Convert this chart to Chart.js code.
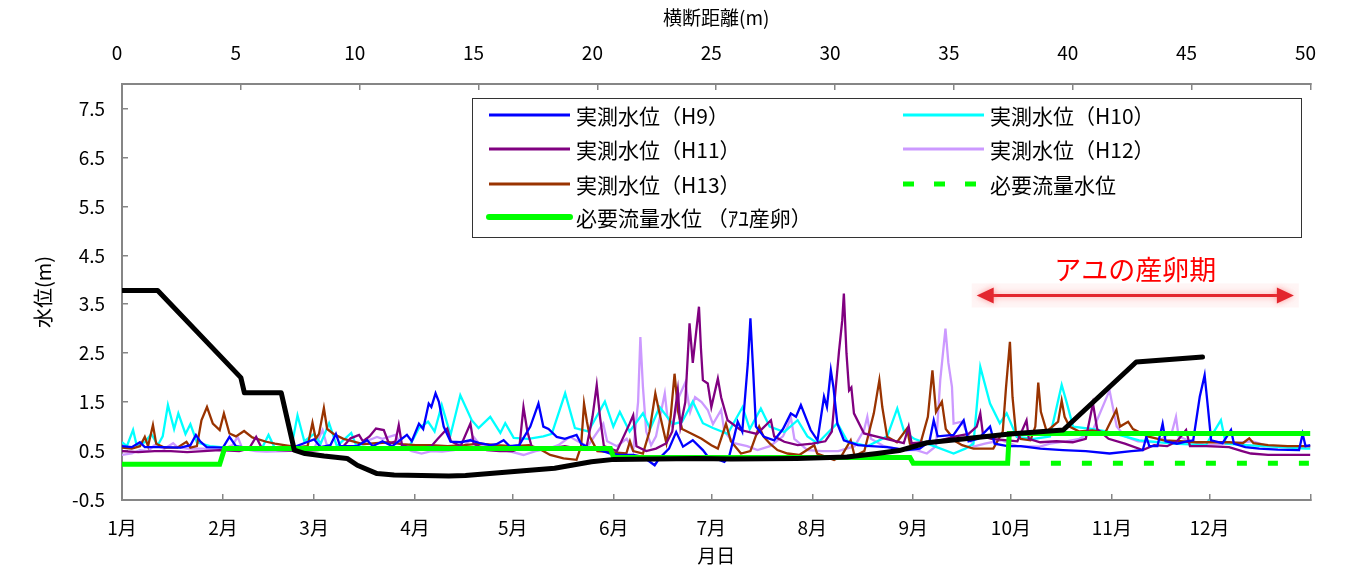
<!DOCTYPE html>
<html><head><meta charset="utf-8">
<script src="https://cdn.jsdelivr.net/npm/chart.js@4.4.1/dist/chart.umd.min.js"></script>
<style>html,body{margin:0;padding:0;background:#fff;}#wrap{width:1347px;height:568px;position:relative;}</style>
</head><body><div id="wrap"><canvas id="c" width="1347" height="568"></canvas></div>
<script>
// ---- axes ----
const monthStartDays = [0,31,59,90,120,151,181,212,243,273,304,334,365];
const monthLabels = ['1月','2月','3月','4月','5月','6月','7月','8月','9月','10月','11月','12月',''];
const distTickValues = [0,5,10,15,20,25,30,35,40,45,50];
const yTickValues = [-0.5,0.5,1.5,2.5,3.5,4.5,5.5,6.5,7.5];

// ---- measured water levels [day of year, m] ----
const h9 = [[0,0.6],[3,0.58],[5.5,0.68],[7,0.58],[12,0.58],[18,0.57],[21,0.62],[22.7,0.83],[24,0.7],[26,0.58],[31,0.57],[33,0.79],[35,0.6],[40,0.55],[47,0.55],[52,0.56],[57.5,0.7],[59,0.74],[61,0.58],[64,0.62],[65.7,0.85],[67,0.6],[72,0.6],[75.3,0.72],[77,0.6],[80,0.7],[83,0.6],[87.5,0.83],[89,0.7],[91.2,1.06],[92.5,0.95],[94.2,1.47],[95,1.4],[96.3,1.68],[97.3,1.51],[98.8,1.0],[100.9,0.69],[104,0.68],[107,0.72],[110,0.66],[113,0.62],[115,0.64],[117.2,0.72],[119,0.6],[122,0.62],[125.4,1.0],[127.9,1.47],[129.4,1.0],[131,0.95],[133.5,0.79],[136,0.75],[139.6,0.83],[141,0.65],[144,0.55],[146.8,0.52],[150,0.45],[152.9,0.42],[157,0.42],[160,0.38],[163.6,0.21],[165,0.35],[168,0.55],[170.2,0.89],[172.3,0.59],[175.3,0.72],[178.4,0.52],[180,0.38],[183,0.33],[185,0.28],[186.5,0.4],[188,0.79],[189.1,1.1],[190.5,0.9],[192.2,2.29],[193,3.21],[193.8,2.2],[194.7,1.0],[197.2,0.79],[200.3,0.72],[203,0.95],[205.4,1.27],[207,1.2],[208.5,1.44],[211.5,0.93],[213.6,0.72],[215.6,1.61],[216.5,1.4],[217.7,2.15],[218.5,1.8],[219.7,1.06],[221.7,0.72],[226,0.62],[230,0.6],[235,0.58],[241.1,0.52],[245,0.55],[248,0.7],[249.3,1.13],[250.5,0.8],[255.4,0.83],[258.5,1.13],[260,0.7],[263,0.75],[266.6,1.0],[268,0.65],[272,0.6],[276,0.6],[282,0.55],[289,0.52],[296,0.5],[303.3,0.45],[310,0.5],[313.5,0.52],[314.6,0.79],[315.5,0.6],[318,0.6],[319.6,1.06],[320.5,0.7],[324,0.65],[327,0.7],[329,0.72],[331,1.61],[332.5,2.05],[333.5,1.4],[334.5,0.72],[338,0.66],[340.6,0.93],[341.5,0.65],[345,0.58],[349.3,0.55],[355,0.53],[361.5,0.52],[362.6,0.85],[363.5,0.6],[365,0.62]];
const h10 = [[0,0.68],[1.5,0.6],[3.4,0.93],[4.5,0.62],[7,0.68],[9,0.85],[11,0.62],[12.5,0.8],[14.1,1.44],[16,0.95],[17.3,1.27],[19.5,0.85],[21,1.05],[23,0.68],[27,0.6],[32,0.57],[38,0.55],[43,0.56],[45,0.83],[47,0.55],[52,0.57],[53.9,1.23],[56,0.7],[59,0.85],[61,0.65],[63.6,1.07],[66,0.6],[70.4,0.87],[72,0.6],[78,0.56],[85,0.58],[88,0.56],[91.2,0.97],[94,1.1],[96,0.9],[98.2,1.44],[100.9,0.83],[103.9,1.64],[107.4,1.13],[109.5,0.97],[113.1,1.2],[116.2,0.87],[117.7,1.07],[120.3,0.77],[124.8,0.75],[129.4,0.8],[132,0.85],[136.1,1.68],[139.1,0.97],[143.2,0.9],[148.3,1.51],[150.9,1.0],[152.9,1.3],[155.9,0.9],[160,1.27],[162.2,0.95],[165.1,1.4],[169.2,1.05],[172,1.1],[175.3,1.51],[178.4,1.07],[181.5,0.97],[186,0.85],[190.6,1.4],[192.8,0.95],[196.2,1.37],[198.9,1.0],[203.4,0.89],[207.5,1.13],[210.5,0.8],[213.6,0.66],[219.7,1.07],[222.8,0.7],[228.9,0.6],[235,0.8],[238.1,1.37],[240.2,0.9],[243.3,0.75],[249.4,0.6],[255.4,0.45],[259,0.55],[261.5,0.65],[263.6,2.22],[266.6,1.47],[269.6,1.07],[271.7,1.27],[274.8,0.79],[280,0.75],[285,0.8],[288.6,1.85],[290.1,1.5],[292.1,1.0],[298.3,0.95],[302.3,0.9],[312.4,0.72],[322.8,0.65],[332.9,0.62],[337.5,1.13],[339,0.65],[345.2,0.62],[353.3,0.59],[363.5,0.55],[365,0.55]];
const h11 = [[0,0.5],[5,0.48],[10,0.5],[15,0.5],[20,0.48],[25,0.5],[30,0.52],[36,0.5],[39,0.55],[41.2,0.79],[43,0.55],[48,0.52],[55,0.5],[60,0.52],[65,0.55],[68,0.6],[70.2,0.76],[72.8,0.83],[74,0.7],[76,0.8],[78,0.96],[80.4,0.93],[82,0.65],[84,0.7],[85,1.03],[86,0.62],[90,0.55],[95,0.6],[97,0.75],[99.9,0.96],[101,0.7],[104,0.6],[107,1.06],[108,0.65],[112,0.52],[116,0.5],[120,0.5],[122,0.55],[123.3,1.4],[124.5,0.9],[126,0.55],[131,0.55],[136,0.6],[140,0.55],[142.7,0.59],[144.5,1.2],[145.8,1.85],[146.8,1.2],[148,0.6],[152,0.5],[155.9,1.06],[157,1.23],[158,0.6],[161,0.5],[164,0.55],[167.2,0.66],[169,0.9],[170.7,1.74],[171.5,1.0],[173,1.5],[174.3,3.11],[175.3,2.3],[176.4,2.97],[177.2,3.45],[177.8,2.6],[178.4,1.95],[179.9,1.88],[181,1.4],[183,1.98],[184,1.6],[186,1.13],[190,0.93],[195,0.85],[199.3,1.13],[200.3,0.8],[203.4,0.69],[207.5,0.62],[212,0.65],[216,0.7],[218,0.9],[220.2,2.53],[221.2,3.17],[221.7,3.72],[222.5,2.5],[223.3,1.74],[224,1.8],[224.8,1.27],[227.9,0.86],[234,0.76],[240.1,0.66],[241.6,1.0],[242.5,0.66],[247,0.68],[251.3,0.72],[256,0.8],[260,0.85],[262.5,1.0],[263.6,1.27],[264.5,0.8],[267,0.75],[272,0.72],[275,0.7],[277.8,1.13],[278.5,0.75],[282,0.68],[287,0.7],[292,0.68],[296,0.75],[298.2,1.47],[299.5,0.95],[303,0.75],[308,0.65],[313.5,0.52],[317,0.62],[321,0.6],[324,0.7],[326.8,0.93],[328,0.6],[333,0.6],[340,0.58],[344,0.5],[346.7,0.45],[352,0.42],[358,0.42],[365,0.42]];
const h12 = [[0,0.42],[3,0.45],[5.5,0.52],[8,0.5],[10,0.62],[13,0.55],[15.7,0.66],[17,0.58],[20,0.55],[25,0.55],[30,0.52],[34,0.62],[35.5,0.79],[37,0.55],[41,0.5],[44.3,0.49],[50,0.5],[55,0.52],[59,0.55],[61.6,0.93],[63,0.6],[67,0.55],[72,0.6],[75,0.7],[78.3,0.79],[80,0.75],[84,0.83],[86,0.6],[89,0.5],[92,0.45],[95,0.5],[98.3,0.49],[102,0.52],[105,0.6],[108,0.79],[110,0.62],[115,0.55],[120,0.48],[123.3,0.42],[127,0.5],[131,0.55],[134,0.62],[137.6,0.79],[140,0.7],[143,0.6],[147.8,1.06],[149,0.7],[152,0.6],[155,0.75],[157,0.5],[158.5,1.5],[159.2,2.83],[160,1.8],[161,0.9],[162.5,0.62],[164,0.8],[166.7,1.68],[167.5,1.2],[169,1.0],[171,1.6],[173,1.9],[174.5,1.3],[176,1.6],[178,1.5],[179.9,1.34],[181.5,1.05],[184,1.34],[185,0.9],[188,0.66],[192,0.6],[195.2,0.52],[199,0.6],[203,0.8],[204.4,1.0],[205.4,1.2],[206.5,0.75],[210.5,0.52],[215,0.5],[220,0.5],[225,0.6],[227.9,0.93],[228.9,1.2],[230,0.75],[234,0.6],[240,0.52],[244,0.52],[247.2,0.45],[250,0.6],[251.3,1.95],[252.9,3.0],[253.8,2.3],[254.9,1.81],[255.4,1.06],[258,1.1],[260,0.8],[261.5,0.59],[265,0.65],[270,0.72],[275,0.6],[281.9,0.59],[285,0.65],[290,0.7],[294,0.75],[298,0.9],[303.3,1.74],[304,1.5],[305.5,1.0],[308,0.8],[312,0.7],[318,0.68],[322.5,0.9],[323.7,1.2],[324.5,0.8],[328,0.7],[333,0.62],[340,0.65],[347,0.7],[352,0.6],[358,0.6],[365,0.59]];
const h13 = [[0,0.57],[3,0.55],[5.5,0.6],[7,0.79],[8,0.6],[9.5,1.03],[10.5,0.65],[13,0.57],[17,0.57],[19.8,0.69],[21,0.57],[23,0.6],[24.4,1.13],[26.1,1.4],[27.9,1.06],[30,0.93],[31.3,1.27],[33,0.86],[35,0.8],[37.5,0.91],[40,0.78],[44.3,0.69],[47,0.65],[49.8,0.62],[54,0.58],[57,0.6],[58.5,1.08],[59.5,0.75],[60.5,0.85],[62,1.38],[63,0.95],[65,0.85],[68,0.75],[69.8,0.72],[74,0.64],[78,0.66],[82,0.68],[86,0.64],[90.2,0.62],[95,0.62],[100,0.6],[105,0.62],[110,0.65],[115,0.62],[120,0.6],[125,0.62],[128,0.55],[131.5,0.42],[135.6,0.35],[139.6,0.32],[141,0.6],[141.9,1.47],[142.8,1.1],[143.7,0.79],[146,0.5],[150,0.48],[154.9,0.45],[156,0.7],[157,0.5],[160,0.45],[162,0.9],[163.8,1.68],[165,1.3],[167.2,0.66],[168.5,1.2],[169.7,2.08],[170.8,1.3],[172,0.95],[174.8,0.86],[178,0.75],[181,0.62],[183,0.55],[185.5,1.06],[187,0.7],[190.1,0.45],[193,0.5],[195.7,1.0],[197,0.8],[199,0.65],[201.3,0.52],[204.4,0.45],[208,0.42],[212.6,0.62],[213.5,0.45],[218.7,0.32],[221,0.4],[223.8,0.72],[225,0.4],[228,0.5],[230.9,1.27],[232.6,1.95],[233.5,1.4],[235,0.79],[238,0.68],[241.1,0.96],[242,0.65],[245,0.6],[247.5,1.2],[248.9,2.15],[250,1.3],[251.8,1.51],[253,0.95],[256,0.7],[258,0.62],[261.5,0.55],[265,0.55],[267.6,0.55],[270.5,0.9],[271.5,1.8],[272.7,2.73],[273.5,1.6],[274.5,0.9],[276,0.75],[279,0.72],[280.5,1.0],[281.4,1.9],[282.2,1.3],[284,0.9],[287.5,1.1],[288.6,1.53],[289.5,1.2],[291,1.0],[294,0.9],[298,0.92],[302,0.88],[305.4,1.34],[306.5,1.0],[309,1.1],[310.5,0.95],[315,0.8],[320,0.72],[325,0.7],[330,0.68],[335,0.68],[340,0.68],[344.2,0.66],[346.2,0.76],[347.5,0.66],[352,0.62],[358,0.6],[365,0.6]];

// ---- cross-section profile (top axis: distance m) ----
const profileDist  = [0,1.5,5.0,5.15,6.7,7.25,7.7,8.5,9.47,9.9,10.73,11.45,13.75,14.45,16.5,18.2,19.75,20.7,24.2,25.6,28.4,30.5,31.77,32.7,33.87,37.35,39.6,42.67,45.46];
const profileLevel = [3.78,3.78,2.0,1.69,1.69,0.52,0.45,0.4,0.35,0.21,0.04,0.01,-0.01,0.0,0.08,0.15,0.28,0.33,0.35,0.34,0.35,0.38,0.45,0.51,0.67,0.85,0.93,2.32,2.42];

// ---- required flow levels ----
const spawnDays  = [0,30,31.5,150,151,242,243,272,272.5,365];
const spawnLevel = [0.23,0.23,0.55,0.55,0.37,0.37,0.25,0.25,0.86,0.86];
const requiredDays  = [273,365];
const requiredLevel = [0.25,0.25];

// ---- annotation ----
const spawnPeriodDays = [262.5, 359.9];
const spawnPeriodArrowLevel = 3.68;
const spawnPeriodTextLevel = 4.2;
const spawnPeriodText = 'アユの産卵期';

const FONT = "'Noto Sans CJK JP', 'Noto Sans', sans-serif";
const pairs = a => a.map(p => ({x:p[0], y:p[1]}));
const zip = (xs, ys) => xs.map((x,i) => ({x, y:ys[i]}));

const legendItems = [
  {text:'実測水位（H9）', color:'#0000ff', width:3, col:0, row:0},
  {text:'実測水位（H10）', color:'#00ffff', width:3, col:1, row:0},
  {text:'実測水位（H11）', color:'#800080', width:3, col:0, row:1},
  {text:'実測水位（H12）', color:'#cc99ff', width:3, col:1, row:1},
  {text:'実測水位（H13）', color:'#993300', width:3, col:0, row:2},
  {text:'必要流量水位', color:'#00ff00', width:5, dash:true, col:1, row:2},
  {text:'必要流量水位 （ｱﾕ産卵）', color:'#00ff00', width:6, col:0, row:3}
];

const boxLegend = {
  id:'boxLegend',
  afterDraw(chart){
    const ctx = chart.ctx, ca = chart.chartArea;
    const L = ca.left + 350, T = ca.top + 14, W = 829, H = 139;
    ctx.save();
    ctx.fillStyle = '#fff';
    ctx.fillRect(L, T, W, H);
    ctx.strokeStyle = '#333'; ctx.lineWidth = 1;
    ctx.strokeRect(L + 0.5, T + 0.5, W, H);
    const rowY = [17, 51, 86, 119];
    const colX = [17, 431];
    ctx.font = '21px ' + FONT;
    ctx.textBaseline = 'middle';
    legendItems.forEach(it => {
      const y = T + rowY[it.row];
      const x0 = L + colX[it.col];
      ctx.strokeStyle = it.color;
      ctx.lineWidth = it.width;
      ctx.lineCap = it.width > 5 ? 'round' : 'butt';
      if (it.dash) { ctx.setLineDash([11, 20]); } else { ctx.setLineDash([]); }
      ctx.beginPath(); ctx.moveTo(x0, y); ctx.lineTo(x0 + 81, y); ctx.stroke();
      ctx.setLineDash([]);
      ctx.fillStyle = '#000';
      ctx.fillText(it.text, x0 + 87, y + 1);
    });
    ctx.restore();
  }
};

const periodArrow = {
  id:'periodArrow',
  afterDraw(chart){
    const ctx = chart.ctx, xs = chart.scales.x, ys = chart.scales.y;
    const x1 = xs.getPixelForValue(spawnPeriodDays[0]);
    const x2 = xs.getPixelForValue(spawnPeriodDays[1]);
    const y = ys.getPixelForValue(spawnPeriodArrowLevel);
    ctx.save();
    ctx.fillStyle = 'rgba(255,225,225,0.35)';
    ctx.fillRect(x1 - 5, y - 12, x2 - x1 + 10, 24);
    ctx.shadowColor = 'rgba(255,80,80,0.55)';
    ctx.shadowBlur = 6;
    ctx.strokeStyle = '#e3262e';
    ctx.fillStyle = '#e3262e';
    ctx.lineWidth = 3;
    ctx.beginPath(); ctx.moveTo(x1 + 14, y); ctx.lineTo(x2 - 14, y); ctx.stroke();
    ctx.beginPath(); ctx.moveTo(x1, y); ctx.lineTo(x1 + 17, y - 8); ctx.lineTo(x1 + 17, y + 8); ctx.closePath(); ctx.fill();
    ctx.beginPath(); ctx.moveTo(x2, y); ctx.lineTo(x2 - 17, y - 8); ctx.lineTo(x2 - 17, y + 8); ctx.closePath(); ctx.fill();
    ctx.restore();
    ctx.save();
    ctx.fillStyle = '#ff0000';
    ctx.font = '27px ' + FONT;
    ctx.textAlign = 'center';
    ctx.textBaseline = 'middle';
    const tx = xs.getPixelForValue((spawnPeriodDays[0] + spawnPeriodDays[1]) / 2);
    ctx.fillText(spawnPeriodText, tx, ys.getPixelForValue(spawnPeriodTextLevel));
    ctx.restore();
  }
};

const axisColor = '#868686';
const tickFont = {family: FONT, size: 19};
const gridOpts = {drawOnChartArea:false, drawTicks:true, tickLength:-6, color:axisColor, lineWidth:1.5};
const borderOpts = {color:axisColor, width:2};

new Chart(document.getElementById('c'), {
  type:'line',
  data:{
    datasets:[
      {label:'横断面', data:zip(profileDist, profileLevel), xAxisID:'x2', yAxisID:'y', borderColor:'#000', borderWidth:5, borderJoinStyle:'round', borderCapStyle:'round', order:0},
      {label:'必要流量水位（ｱﾕ産卵）', data:zip(spawnDays, spawnLevel), xAxisID:'x', yAxisID:'y', borderColor:'#00ff00', borderWidth:5, order:1},
      {label:'必要流量水位', data:zip(requiredDays, requiredLevel), xAxisID:'x', yAxisID:'y', borderColor:'#00ff00', borderWidth:5, borderDash:[10,21], borderDashOffset:22, order:2},
      {label:'実測水位（H9）', data:pairs(h9), xAxisID:'x', yAxisID:'y', borderColor:'#0000ff', borderWidth:2.3, order:3},
      {label:'実測水位（H11）', data:pairs(h11), xAxisID:'x', yAxisID:'y', borderColor:'#800080', borderWidth:2.3, order:4},
      {label:'実測水位（H13）', data:pairs(h13), xAxisID:'x', yAxisID:'y', borderColor:'#993300', borderWidth:2.3, order:5},
      {label:'実測水位（H10）', data:pairs(h10), xAxisID:'x', yAxisID:'y', borderColor:'#00ffff', borderWidth:2.3, order:6},
      {label:'実測水位（H12）', data:pairs(h12), xAxisID:'x', yAxisID:'y', borderColor:'#cc99ff', borderWidth:2.3, order:7}
    ]
  },
  options:{
    responsive:false, animation:false, devicePixelRatio:1,
    layout:{padding:{left:0, right:32, top:0, bottom:0}},
    plugins:{legend:{display:false}, tooltip:{enabled:false}},
    elements:{point:{radius:0, hoverRadius:0}, line:{tension:0, fill:false}},
    scales:{
      x:{
        type:'linear', position:'bottom', min:0, max:365,
        afterBuildTicks: s => { s.ticks = monthStartDays.map(v => ({value:v})); },
        afterFit: s => { s.height = 68; },
        ticks:{autoSkip:false, maxRotation:0, color:'#000', font:tickFont, padding:22,
          callback: v => monthLabels[monthStartDays.indexOf(v)] || ''},
        grid:gridOpts, border:borderOpts,
        title:{display:true, text:'月日', color:'#000', font:{family:FONT, size:19}, padding:{top:0, bottom:1}}
      },
      x2:{
        type:'linear', position:'top', min:0, max:50,
        afterBuildTicks: s => { s.ticks = distTickValues.map(v => ({value:v})); },
        afterFit: s => { s.height = 84; },
        ticks:{autoSkip:false, maxRotation:0, color:'#000', font:tickFont, padding:26, labelOffset:-5,
          callback: v => String(v)},
        grid:gridOpts, border:borderOpts,
        title:{display:true, text:'横断距離(m)', color:'#000', font:{family:FONT, size:19}, padding:{top:6, bottom:0}}
      },
      y:{
        type:'linear', position:'left', min:-0.5, max:8.0,
        afterBuildTicks: s => { s.ticks = yTickValues.map(v => ({value:v})); },
        afterFit: s => { s.width = 122; },
        ticks:{autoSkip:false, color:'#000', font:tickFont, padding:23,
          callback: v => Number(v).toFixed(1)},
        grid:gridOpts, border:borderOpts,
        title:{display:true, text:'水位(m)', color:'#000', font:{family:FONT, size:20}, padding:{top:31, bottom:0}}
      }
    }
  },
  plugins:[boxLegend, periodArrow]
});
</script></body></html>
